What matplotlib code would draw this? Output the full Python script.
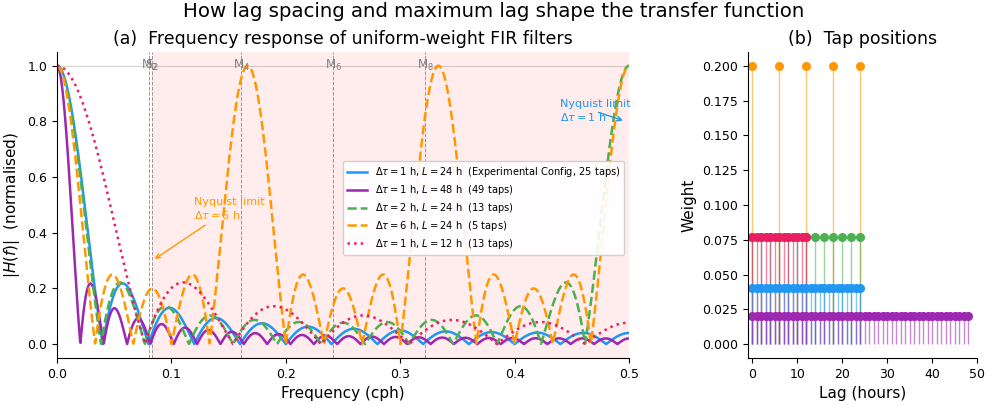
import numpy as np
import matplotlib.pyplot as plt

# filter configurations: lag spacing (h), maximum lag (h)
spacings = [1, 1, 2, 6, 1]
max_lags = [24, 48, 24, 24, 12]
notes = ['Experimental Config, 25 taps', '49 taps', '13 taps', '5 taps', '13 taps']
colors = ['#2196F3', '#9C27B0', '#4CAF50', '#FF9800', '#E91E63']
styles = ['-', '-', '--', '--', ':']

# tidal constituents (cph)
tide_names = ['M$_2$', 'S$_2$', 'M$_4$', 'M$_6$', 'M$_8$']
tide_freqs = [0.0805, 0.0833, 0.1610, 0.2415, 0.3220]

freqs = np.linspace(0, 0.5, 2001)


def response(lags, f):
    '''
    Normalised magnitude of a uniform-weight FIR filter
    '''
    phase = np.exp(-2j * np.pi * np.outer(f, lags))
    return np.abs(phase.sum(axis=1)) / len(lags)


fig = plt.figure(figsize=(9.88, 4.05), dpi=100)
ax1 = fig.add_axes([0.0577, 0.116, 0.579, 0.756])
ax2 = fig.add_axes([0.757, 0.116, 0.232, 0.756])

fig.suptitle('How lag spacing and maximum lag shape the transfer function',
             fontsize=14.2, y=0.995)

# (a) frequency responses
ax1.axvspan(1 / 12, 0.5, color='red', alpha=0.075, lw=0)
ax1.axhline(1.0, color='lightgray', lw=0.8, zorder=0)
for name, ft in zip(tide_names, tide_freqs):
    ax1.axvline(ft, color='gray', ls='--', lw=0.7, alpha=0.8)
    ax1.text(ft, 1.0, name, color='gray', fontsize=8.5, ha='center', va='center')

for dt, L, note, c, ls in zip(spacings, max_lags, notes, colors, styles):
    lags = np.arange(0, L + dt, dt)
    label = r'$\Delta\tau = %d$ h, $L = %d$ h  (%s)' % (dt, L, note)
    ax1.plot(freqs, response(lags, freqs), color=c, ls=ls, lw=1.8, label=label)

ax1.annotate('Nyquist limit\n$\\Delta\\tau = 6$ h', xy=(1 / 12, 0.3),
             xytext=(0.12, 0.45), color='#FF9800', fontsize=8,
             arrowprops=dict(arrowstyle='->', color='#FF9800', lw=1))
ax1.annotate('Nyquist limit\n$\\Delta\\tau = 1$ h', xy=(0.497, 0.8),
             xytext=(0.44, 0.8), color='#2196F3', fontsize=8,
             arrowprops=dict(arrowstyle='->', color='#2196F3', lw=1))

ax1.set_xlim(0, 0.5)
ax1.set_ylim(-0.05, 1.05)
ax1.set_xlabel('Frequency (cph)', fontsize=11)
ax1.set_ylabel('$|H(f)|$  (normalised)', fontsize=11)
ax1.set_title('(a)  Frequency response of uniform-weight FIR filters', fontsize=12.5)
ax1.legend(loc='center right', bbox_to_anchor=(1.0, 0.49), fontsize=7.1,
           labelspacing=0.4, framealpha=0.9)

# (b) tap positions, drawn back to front
order = [3, 2, 4, 0, 1]
for i in order:
    lags = np.arange(0, max_lags[i] + spacings[i], spacings[i])
    w = np.full(len(lags), 1.0 / len(lags))
    ax2.vlines(lags, 0, w, color=colors[i], lw=1, alpha=0.55)
    ax2.plot(lags, w, 'o', color=colors[i], ms=5.5)

ax2.set_xlim(-1, 50)
ax2.set_ylim(-0.01, 0.21)
ax2.set_yticks(np.arange(0, 0.201, 0.025))
ax2.set_xlabel('Lag (hours)', fontsize=11)
ax2.set_ylabel('Weight', fontsize=11)
ax2.set_title('(b)  Tap positions', fontsize=12.5)

for ax in (ax1, ax2):
    ax.spines['top'].set_visible(False)
    ax.spines['right'].set_visible(False)
    ax.tick_params(labelsize=9)

fig.savefig('out.png', dpi=100)
